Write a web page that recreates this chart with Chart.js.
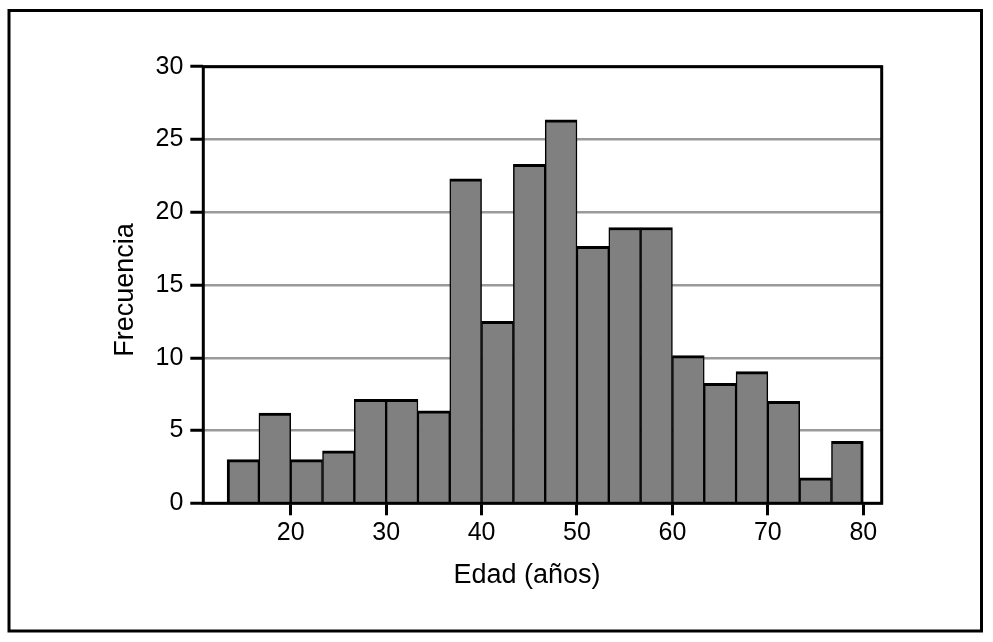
<!DOCTYPE html>
<html>
<head>
<meta charset="utf-8">
<script src="https://cdn.jsdelivr.net/npm/chart.js@4/dist/chart.umd.min.js"></script>
<style>
  html, body { margin: 0; padding: 0; background: #fff; }
  canvas { display: block; }
</style>
</head>
<body>
<canvas id="hist" width="993" height="642"></canvas>
<script>
// histogram bins (lower edge, years) and bin width
const binStart = [13.3333, 16.6667, 20, 23.3333, 26.6667, 30, 33.3333, 36.6667, 40, 43.3333,
                  46.6667, 50, 53.3333, 56.6667, 60, 63.3333, 66.6667, 70, 73.3333, 76.6667];
const binWidth = 3.3333;
const frecuencia = [3.0, 6.2, 3.0, 3.6, 7.15, 7.15, 6.35, 22.3, 12.5, 23.3,
                    26.35, 17.65, 18.95, 18.95, 10.15, 8.25, 9.05, 7.0, 1.75, 4.25];
const xTicks = [20, 30, 40, 50, 60, 70, 80];
const yTicks = [0, 5, 10, 15, 20, 25, 30];
const xTitle = "Edad (años)";
const yTitle = "Frecuencia";

const FONT = "'Liberation Sans', Arial, Helvetica, sans-serif";
const last = frecuencia.length - 1;

const frame = {
    id: "frame",
    afterDraw(chart) {
        const { ctx, chartArea: a } = chart;
        ctx.save();
        ctx.strokeStyle = "#000";
        ctx.lineWidth = 3;
        ctx.strokeRect(a.left, a.top, a.right - a.left, a.bottom - a.top);
        // outer box
        ctx.strokeRect(9, 10.5, 972.5, 620.5);

        ctx.fillStyle = "#000";
        ctx.font = "27px " + FONT;
        ctx.textAlign = "center";
        ctx.textBaseline = "alphabetic";
        ctx.fillText(xTitle, 527, 583);

        ctx.translate(133, 290);
        ctx.rotate(-Math.PI / 2);
        ctx.fillText(yTitle, 0, 0);
        ctx.restore();
    }
};

new Chart(document.getElementById("hist"), {
    type: "bar",
    data: {
        datasets: [{
            data: binStart.map((s, i) => ({ x: s + binWidth / 2, y: frecuencia[i] })),
            backgroundColor: "#808080",
            borderColor: "#000",
            borderSkipped: false,
            borderWidth: c => ({
                top: 3,
                bottom: 0,
                left: c.dataIndex === 0 ? 3 : 1.5,
                right: c.dataIndex === last ? 3 : 1.5
            }),
            barPercentage: 1,
            categoryPercentage: 1
        }]
    },
    options: {
        responsive: false,
        animation: false,
        layout: { padding: { top: 66.7, right: 111.3, left: 0, bottom: 0 } },
        plugins: { legend: { display: false }, tooltip: { enabled: false } },
        scales: {
            x: {
                type: "linear",
                offset: false,
                min: 10.84,
                max: 81.93,
                afterBuildTicks: s => { s.ticks = xTicks.map(v => ({ value: v })); },
                afterFit: s => { s.height = 138.7; },
                border: { display: false },
                grid: {
                    offset: false,
                    drawOnChartArea: false,
                    tickLength: 12,
                    tickWidth: 3,
                    tickColor: "#000"
                },
                ticks: {
                    color: "#000",
                    padding: 3,
                    maxRotation: 0,
                    autoSkip: false,
                    font: { family: FONT, size: 25 }
                }
            },
            y: {
                min: 0,
                max: 30,
                afterBuildTicks: s => { s.ticks = yTicks.map(v => ({ value: v })); },
                afterFit: s => { s.width = 203.3; },
                border: { display: false },
                grid: {
                    color: "#9a9a9a",
                    lineWidth: 2.5,
                    tickLength: 13,
                    tickWidth: 3,
                    tickColor: "#000"
                },
                ticks: {
                    color: "#000",
                    padding: 7,
                    font: { family: FONT, size: 25 }
                }
            }
        }
    },
    plugins: [frame]
});
</script>
</body>
</html>
